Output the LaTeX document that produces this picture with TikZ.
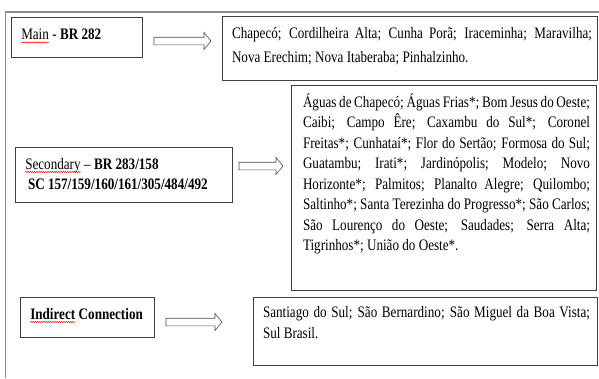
\documentclass[tikz,border=0pt]{standalone}
\usepackage{fontspec}
\setmainfont[FakeStretch=0.82]{Liberation Serif}
\usetikzlibrary{decorations.pathmorphing}
\newcommand\spellwave[1]{\tikz[baseline=(sw.base)]{\node[inner sep=0pt,outer sep=0pt] (sw) {#1};\draw[red, line width=0.5pt, decorate, decoration={snake, amplitude=0.6pt, segment length=2.2pt}] ([yshift=-3pt]sw.base west) -- ([yshift=-3pt]sw.base east);}}
\tikzset{
  frameline/.style={draw=black!45, line width=1.4pt},
  boxed/.style={draw=black!75, line width=0.8pt, inner sep=0pt, outer sep=0pt, anchor=north west},
  txt/.style={inner sep=0pt, outer sep=0pt, anchor=base west, align=justify},
  blockarrow/.pic={\draw[draw=black!70,line width=0.6pt,fill=white] (0,-3.8) -- (#1-7,-3.8) -- (#1-7,-8.5) -- (#1,0) -- (#1-7,8.5) -- (#1-7,3.8) -- (0,3.8) -- cycle;}
}
\begin{document}
\begin{tikzpicture}[x=1pt,y=-1pt]
\useasboundingbox (0,0) rectangle (599,378);
% outer frame
\draw[frameline] (5.5,378) |- (599,12);
% boxes
\node[boxed, minimum width=131pt, minimum height=40pt] (mainbox) at (11,17) {};
\node[boxed, minimum width=375pt, minimum height=64pt] (box1) at (222,16) {};
\node[boxed, minimum width=217pt, minimum height=55pt] (secbox) at (15,147) {};
\node[boxed, minimum width=305pt, minimum height=205pt] (box2) at (291,85) {};
\node[boxed, minimum width=134pt, minimum height=40pt] (indbox) at (20,297) {};
\node[boxed, minimum width=344pt, minimum height=68pt] (box3) at (253,297) {};
% left texts
\node[txt, align=left, font=\fontsize{16}{20}\selectfont] (maintxt) at (21,39.5) {\spellwave{Main} - \textbf{BR 282}};
\node[txt, align=left, font=\fontsize{16}{20}\selectfont] (sectxt) at (25,189) {\spellwave{Secondary} -- \textbf{BR 283/158}\\\hspace*{3pt}\textbf{SC 157/159/160/161/305/484/492}};
\node[txt, align=left, font=\fontsize{16}{20}\selectfont] (indtxt) at (30,319) {\textbf{\spellwave{Indirect} Connection}};
% right texts
\node[txt, text width=360pt, font=\fontsize{16}{24}\selectfont] (txt1) at (232,38) {Chapecó; Cordilheira Alta; Cunha Porã; Iraceminha; Maravilha;\linebreak Nova Erechim; Nova Itaberaba; Pinhalzinho.};
\node[txt, text width=287pt, font=\fontsize{16}{20.5}\selectfont] (txt2) at (303,107) {Águas de Chapecó; Águas Frias*; Bom Jesus do Oeste;\linebreak Caibi; Campo Êre; Caxambu do Sul*; Coronel\linebreak Freitas*; Cunhataí*; Flor do Sertão; Formosa do Sul;\linebreak Guatambu; Irati*; Jardinópolis; Modelo; Novo\linebreak Horizonte*; Palmitos; Planalto Alegre; Quilombo;\linebreak Saltinho*; Santa Terezinha do Progresso*; São Carlos;\linebreak São Lourenço do Oeste; Saudades; Serra Alta;\linebreak Tigrinhos*; União do Oeste*.};
\node[txt, text width=327pt, font=\fontsize{16}{21}\selectfont] (txt3) at (263,317) {Santiago do Sul; São Bernardino; São Miguel da Boa Vista;\linebreak Sul Brasil.};
% arrows
\coordinate (a1) at (154,41);
\coordinate (a2) at (239,166);
\coordinate (a3) at (166,322);
\pic at (a1) {blockarrow=57};
\pic at (a2) {blockarrow=44};
\pic at (a3) {blockarrow=56};
\end{tikzpicture}
\end{document}
